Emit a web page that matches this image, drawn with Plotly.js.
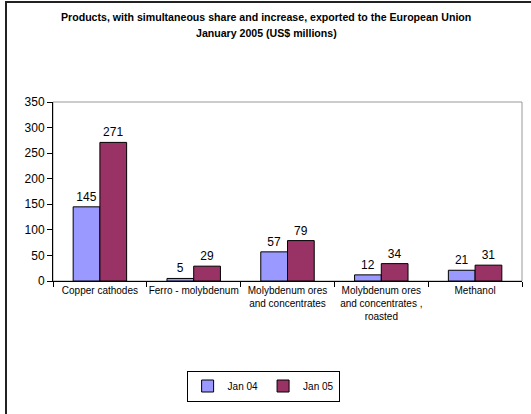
<!DOCTYPE html>
<html>
<head>
<meta charset="utf-8">
<script src="https://cdn.plot.ly/plotly-3.0.1.min.js"></script>
<style>
  html, body { margin: 0; padding: 0; background: #fff; }
  #wrap { position: relative; width: 531px; height: 414px; overflow: hidden; }
  #frame { position: absolute; left: 5px; top: 1px; width: 600px; height: 600px; border-left: 2px solid #222; border-top: 2px solid #222; pointer-events: none; }
  #chart { position: absolute; left: 0; top: 0; width: 531px; height: 414px; }
</style>
</head>
<body>
<div id="wrap">
  <div id="chart"></div>
  <div id="frame"></div>
</div>
<script>
const categories = [
  "Copper cathodes",
  "Ferro - molybdenum",
  "Molybdenum ores<br>and concentrates",
  "Molybdenum ores<br>and concentrates ,<br>roasted",
  "Methanol"
];
const seriesNames = ["Jan 04", "Jan 05"];
const jan04 = [145, 5, 57, 12, 21];
const jan05 = [271, 29, 79, 34, 31];
const yTicks = [0, 50, 100, 150, 200, 250, 300, 350];
const titleLines = [
  "Products, with simultaneous share and increase, exported to the European Union",
  "January 2005 (US$ millions)"
];

const FONT = "'Liberation Sans', Arial, sans-serif";

const traces = [
  {
    type: "bar", name: seriesNames[0], x: categories, y: jan04,
    text: jan04.map(String), textposition: "outside", cliponaxis: false,
    textfont: { family: FONT, size: 12, color: "#000" },
    marker: { color: "#9999FF", line: { color: "#000", width: 1 } }
  },
  {
    type: "bar", name: seriesNames[1], x: categories, y: jan05,
    text: jan05.map(String), textposition: "outside", cliponaxis: false,
    textfont: { family: FONT, size: 12, color: "#000" },
    marker: { color: "#993366", line: { color: "#000", width: 1 } }
  }
];

const layout = {
  width: 531, height: 414,
  margin: { l: 53, r: 9, t: 102, b: 133 },
  paper_bgcolor: "rgba(0,0,0,0)", plot_bgcolor: "#fff",
  font: { family: FONT, size: 10, color: "#000" },
  barmode: "group",
  bargap: 0.43, bargroupgap: 0,
  showlegend: true,
  legend: {
    orientation: "h", x: 0.448, xanchor: "center", y: -0.5, yanchor: "top",
    bordercolor: "#000", borderwidth: 1, bgcolor: "#fff",
    font: { family: FONT, size: 10 }, itemwidth: 30, traceorder: "normal"
  },
  xaxis: {
    type: "category", showline: true, linecolor: "#000", linewidth: 1,
    ticks: "outside", tickson: "boundaries", ticklen: 5, tickcolor: "#000",
    showgrid: false, tickfont: { family: FONT, size: 10 }, tickangle: 0,
    fixedrange: true
  },
  yaxis: {
    range: [0, 350], tickvals: yTicks, ticktext: yTicks.map(String),
    showline: true, linecolor: "#000", linewidth: 1,
    ticks: "outside", ticklen: 5, tickcolor: "#000",
    showgrid: false, zeroline: false, tickfont: { family: FONT, size: 12 },
    fixedrange: true
  },
  annotations: titleLines.map((t, i) => ({
    text: "<b>" + t + "</b>", xref: "paper", yref: "paper",
    x: (266 - 53) / 469, xanchor: "center",
    y: 1 + (102 - (17 + i * 16)) / 179, yanchor: "middle",
    showarrow: false, font: { family: FONT, size: 10.6, color: "#000" }
  })),
  shapes: [
    { type: "rect", xref: "paper", yref: "paper", x0: 0, x1: 1, y0: 0, y1: 1,
      line: { color: "#999", width: 1 }, layer: "below" }
  ]
};

Plotly.newPlot("chart", traces, layout, { displayModeBar: false, staticPlot: true });
</script>
</body>
</html>
